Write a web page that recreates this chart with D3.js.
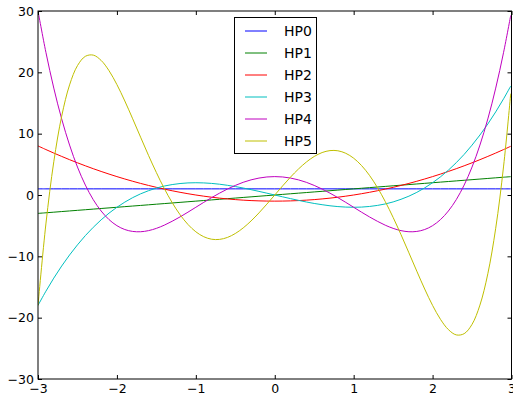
<!DOCTYPE html>
<html>
<head>
<meta charset="utf-8">
<script src="https://cdn.jsdelivr.net/npm/d3@7"></script>
<style>
  body { margin: 0; background: #fff; }
  text { font-family: "DejaVu Sans", sans-serif; }
</style>
</head>
<body>
<div id="chart"></div>
<script>
// sample positions
const xs = [-3.0, -2.9, -2.8, -2.7, -2.6, -2.5, -2.4, -2.3, -2.2, -2.1, -2.0, -1.9, -1.8, -1.7, -1.6, -1.5, -1.4, -1.3, -1.2, -1.1,
            -1.0, -0.9, -0.8, -0.7, -0.6, -0.5, -0.4, -0.3, -0.2, -0.1, 0.0, 0.1, 0.2, 0.3, 0.4, 0.5, 0.6, 0.7, 0.8, 0.9,
            1.0, 1.1, 1.2, 1.3, 1.4, 1.5, 1.6, 1.7, 1.8, 1.9, 2.0, 2.1, 2.2, 2.3, 2.4, 2.5, 2.6, 2.7, 2.8, 2.9, 2.99];

const hp0 = [1, 1, 1, 1, 1, 1, 1, 1, 1, 1, 1, 1, 1, 1, 1, 1, 1, 1, 1, 1,
             1, 1, 1, 1, 1, 1, 1, 1, 1, 1, 1, 1, 1, 1, 1, 1, 1, 1, 1, 1,
             1, 1, 1, 1, 1, 1, 1, 1, 1, 1, 1, 1, 1, 1, 1, 1, 1, 1, 1, 1, 1];
const hp1 = [-3.0, -2.9, -2.8, -2.7, -2.6, -2.5, -2.4, -2.3, -2.2, -2.1, -2.0, -1.9, -1.8, -1.7, -1.6, -1.5, -1.4, -1.3, -1.2, -1.1,
             -1.0, -0.9, -0.8, -0.7, -0.6, -0.5, -0.4, -0.3, -0.2, -0.1, 0.0, 0.1, 0.2, 0.3, 0.4, 0.5, 0.6, 0.7, 0.8, 0.9,
             1.0, 1.1, 1.2, 1.3, 1.4, 1.5, 1.6, 1.7, 1.8, 1.9, 2.0, 2.1, 2.2, 2.3, 2.4, 2.5, 2.6, 2.7, 2.8, 2.9, 2.99];
const hp2 = [8, 7.41, 6.84, 6.29, 5.76, 5.25, 4.76, 4.29, 3.84, 3.41, 3, 2.61, 2.24, 1.89, 1.56, 1.25, 0.96, 0.69, 0.44, 0.21,
             0, -0.19, -0.36, -0.51, -0.64, -0.75, -0.84, -0.91, -0.96, -0.99, -1, -0.99, -0.96, -0.91, -0.84, -0.75, -0.64, -0.51, -0.36, -0.19,
             0, 0.21, 0.44, 0.69, 0.96, 1.25, 1.56, 1.89, 2.24, 2.61, 3, 3.41, 3.84, 4.29, 4.76, 5.25, 5.76, 6.29, 6.84, 7.41, 7.94];
const hp3 = [-18, -15.69, -13.55, -11.58, -9.78, -8.13, -6.62, -5.27, -4.05, -2.96, -2, -1.16, -0.43, 0.19, 0.70, 1.13, 1.46, 1.70, 1.87, 1.97,
             2, 1.97, 1.89, 1.76, 1.58, 1.38, 1.14, 0.87, 0.59, 0.30, 0, -0.30, -0.59, -0.87, -1.14, -1.38, -1.58, -1.76, -1.89, -1.97,
             -2, -1.97, -1.87, -1.70, -1.46, -1.13, -0.70, -0.19, 0.43, 1.16, 2, 2.96, 4.05, 5.27, 6.62, 8.13, 9.78, 11.58, 13.55, 15.69, 17.76];
const hp4 = [30, 23.27, 17.43, 12.40, 8.14, 4.56, 1.62, -0.76, -2.61, -4.01, -5, -5.63, -5.94, -5.99, -5.81, -5.44, -4.92, -4.28, -3.57, -2.80,
             -2, -1.20, -0.43, 0.30, 0.97, 1.56, 2.07, 2.47, 2.76, 2.94, 3, 2.94, 2.76, 2.47, 2.07, 1.56, 0.97, 0.30, -0.43, -1.20,
             -2, -2.80, -3.57, -4.28, -4.92, -5.44, -5.81, -5.99, -5.94, -5.63, -5, -4.01, -2.61, -0.76, 1.62, 4.56, 8.14, 12.40, 17.43, 23.27, 29.28];
const hp5 = [-18, -4.72, 5.42, 12.84, 17.95, 21.09, 22.61, 22.81, 21.94, 20.27, 18, 15.33, 12.42, 9.43, 6.47, 3.66, 1.06, -1.24, -3.21, -4.80,
             -6, -6.80, -7.21, -7.24, -6.92, -6.28, -5.37, -4.23, -2.92, -1.49, 0, 1.49, 2.92, 4.23, 5.37, 6.28, 6.92, 7.24, 7.21, 6.80,
             6, 4.80, 3.21, 1.24, -1.06, -3.66, -6.47, -9.43, -12.42, -15.33, -18, -20.27, -21.94, -22.81, -22.61, -21.09, -17.95, -12.84, -5.42, 4.72, 16.52];

const names = ["HP0", "HP1", "HP2", "HP3", "HP4", "HP5"];
const colors = ["#0000ff", "#008000", "#ff0000", "#00bfbf", "#bf00bf", "#bfbf00"];
const xTicks = [-3, -2, -1, 0, 1, 2, 3];
const yTicks = [-30, -20, -10, 0, 10, 20, 30];

const series = [hp0, hp1, hp2, hp3, hp4, hp5];

const width = 513,
      height = 394;

const svg = d3.select("#chart")
              .append("svg")
              .attr("width", width)
              .attr("height", height);

const x = d3.scaleLinear().domain([-3, 3]).range([38, 511.5]);
const y = d3.scaleLinear().domain([-30, 30]).range([379, 11]);

svg.append("clipPath")
   .attr("id", "plot-clip")
   .append("rect")
   .attr("x", 38).attr("y", 11)
   .attr("width", 511.5 - 38).attr("height", 379 - 11);

// Draw curves
const line = d3.line()
               .x((d, i) => x(xs[i]))
               .y(d => y(d))
               .curve(d3.curveCatmullRom.alpha(0.5));

svg.append("g")
   .attr("clip-path", "url(#plot-clip)")
   .selectAll("path")
   .data(series)
   .join("path")
   .attr("d", line)
   .attr("fill", "none")
   .attr("stroke", (d, i) => colors[i])
   .attr("stroke-width", 1);

// Frame
svg.append("rect")
   .attr("x", 38).attr("y", 11)
   .attr("width", 511.5 - 38).attr("height", 379 - 11)
   .attr("fill", "none")
   .attr("stroke", "#000")
   .attr("stroke-width", 1);

// Axes, ticks pointing inward
const fmt = d => d3.format("d")(d).replace("-", "\u2212");

const axBottom = svg.append("g")
                    .attr("transform", "translate(0,379)")
                    .call(d3.axisBottom(x).tickValues(xTicks).tickSizeInner(-4).tickSizeOuter(0).tickPadding(5).tickFormat(fmt));
const axTop = svg.append("g")
                 .attr("transform", "translate(0,11)")
                 .call(d3.axisTop(x).tickValues(xTicks).tickSizeInner(-4).tickSizeOuter(0).tickFormat(""));
const axLeft = svg.append("g")
                  .attr("transform", "translate(38,0)")
                  .call(d3.axisLeft(y).tickValues(yTicks).tickSizeInner(-4).tickSizeOuter(0).tickPadding(4).tickFormat(fmt));
const axRight = svg.append("g")
                   .attr("transform", "translate(511.5,0)")
                   .call(d3.axisRight(y).tickValues(yTicks).tickSizeInner(-4).tickSizeOuter(0).tickFormat(""));

[axBottom, axTop, axLeft, axRight].forEach(a => {
    a.select(".domain").remove();
    a.selectAll("text")
     .attr("font-family", "DejaVu Sans, sans-serif")
     .attr("font-size", 12.5)
     .attr("fill", "#000");
    a.selectAll("line").attr("stroke", "#000");
});

// Legend
const legend = svg.append("g").attr("transform", "translate(234,17)");
legend.append("rect")
      .attr("x", 0.5).attr("y", 0.5)
      .attr("width", 82).attr("height", 136)
      .attr("fill", "#fff")
      .attr("stroke", "#000");

const item = legend.selectAll("g.item")
                   .data(names)
                   .join("g")
                   .attr("class", "item")
                   .attr("transform", (d, i) => `translate(0,${14 + i * 22})`);
item.append("line")
    .attr("x1", 11).attr("x2", 33)
    .attr("stroke", (d, i) => colors[i])
    .attr("stroke-width", 1);
item.append("text")
    .attr("x", 50)
    .attr("dy", "0.36em")
    .attr("font-size", 14)
    .text(d => d);
</script>
</body>
</html>
